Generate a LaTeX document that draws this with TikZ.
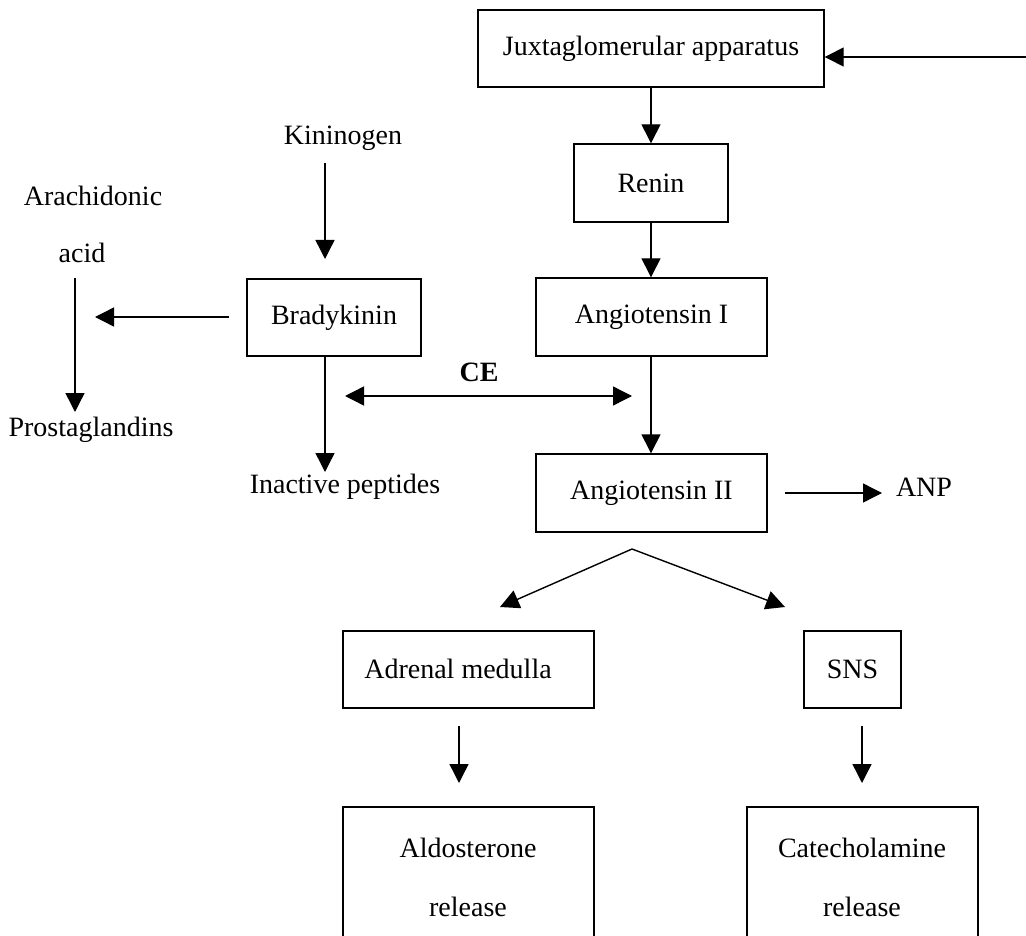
\documentclass[tikz,border=0pt]{standalone}
\usepackage{fontspec}
\setmainfont{Liberation Serif}
\usetikzlibrary{arrows.meta}
\begin{document}
\begin{tikzpicture}[x=1pt,y=-1pt,
  box/.style={draw, line width=1.4pt, inner sep=0pt, align=center, font=\fontsize{28}{59}\selectfont},
  lbl/.style={inner sep=0pt, align=center, font=\fontsize{28}{59}\selectfont},
  arr/.style={line width=1.4pt, -{Triangle[length=19pt,width=19pt]}},
  darr/.style={line width=1.4pt, {Triangle[length=19pt,width=19pt]}-{Triangle[length=19pt,width=19pt]}}]
\useasboundingbox (0,0) rectangle (1026,936);
\clip (0,0) rectangle (1026,936);
% boxes
\node[box, minimum width=346pt, minimum height=77pt] (jga) at (651,48.5) {Juxtaglomerular apparatus};
\node[box, minimum width=154pt, minimum height=78pt] (renin) at (651,183) {Renin};
\node[box, minimum width=231pt, minimum height=78pt] (ang1) at (651.5,317) {Angiotensin I};
\node[box, minimum width=231pt, minimum height=78pt] (ang2) at (651.5,493) {Angiotensin II};
\node[box, minimum width=174pt, minimum height=77pt] (brady) at (334,317.5) {Bradykinin};
\node[box, minimum width=251pt, minimum height=77pt] (adm) at (468.5,669.5) {};
\node[lbl] (admt) at (458,669) {Adrenal medulla};
\node[box, minimum width=97pt, minimum height=77pt] (sns) at (852.5,669.5) {SNS};
\node[box, minimum width=251pt, minimum height=160pt] (aldo) at (468.5,887) {};
\node[lbl] (aldot) at (468,877) {Aldosterone\\release};
\node[box, minimum width=231pt, minimum height=160pt] (cat) at (862.5,887) {};
\node[lbl] (catt) at (862,877) {Catecholamine\\release};
% free texts
\node[lbl] (kin) at (343,138) {Kininogen};
\node[lbl] (arach) at (93,196) {Arachidonic};
\node[lbl] (acid) at (82,253) {acid};
\node[lbl] (prost) at (91,430) {Prostaglandins};
\node[lbl] (inact) at (345,487) {Inactive peptides};
\node[lbl, font=\bfseries\fontsize{28}{34}\selectfont] (ce) at (479,372) {CE};
\node[lbl] (anp) at (924,487) {ANP};
% coordinates
\coordinate (fb) at (1026,57);
\coordinate (k1) at (325,163);
\coordinate (k2) at (325,259);
\coordinate (bl1) at (229,317);
\coordinate (bl2) at (95,317);
\coordinate (ac1) at (75,278);
\coordinate (ac2) at (75,412);
\coordinate (bd1) at (325,356);
\coordinate (bd2) at (325,472);
\coordinate (ce1) at (345,396);
\coordinate (ce2) at (632,396);
\coordinate (apex) at (632,549);
\coordinate (vl) at (500,607);
\coordinate (vr) at (785,607);
\coordinate (an1) at (785,493);
\coordinate (an2) at (882,493);
\coordinate (ad1) at (459,726);
\coordinate (ad2) at (459,783);
\coordinate (sn1) at (862,726);
\coordinate (sn2) at (862,783);
% connectors
\draw[arr] (fb) -- (fb -| jga.east);
\draw[arr] (jga.south) -- (renin.north);
\draw[arr] (renin.south) -- (renin.south |- ang1.north);
\draw[arr] (renin.south |- ang1.south) -- (renin.south |- ang2.north);
\draw[arr] (k1) -- (k2);
\draw[arr] (bl1) -- (bl2);
\draw[arr] (ac1) -- (ac2);
\draw[arr] (bd1) -- (bd2);
\draw[darr] (ce1) -- (ce2);
\draw[arr] (apex) -- (vl);
\draw[arr] (apex) -- (vr);
\draw[arr] (an1) -- (an2);
\draw[arr] (ad1) -- (ad2);
\draw[arr] (sn1) -- (sn2);
\end{tikzpicture}
\end{document}
